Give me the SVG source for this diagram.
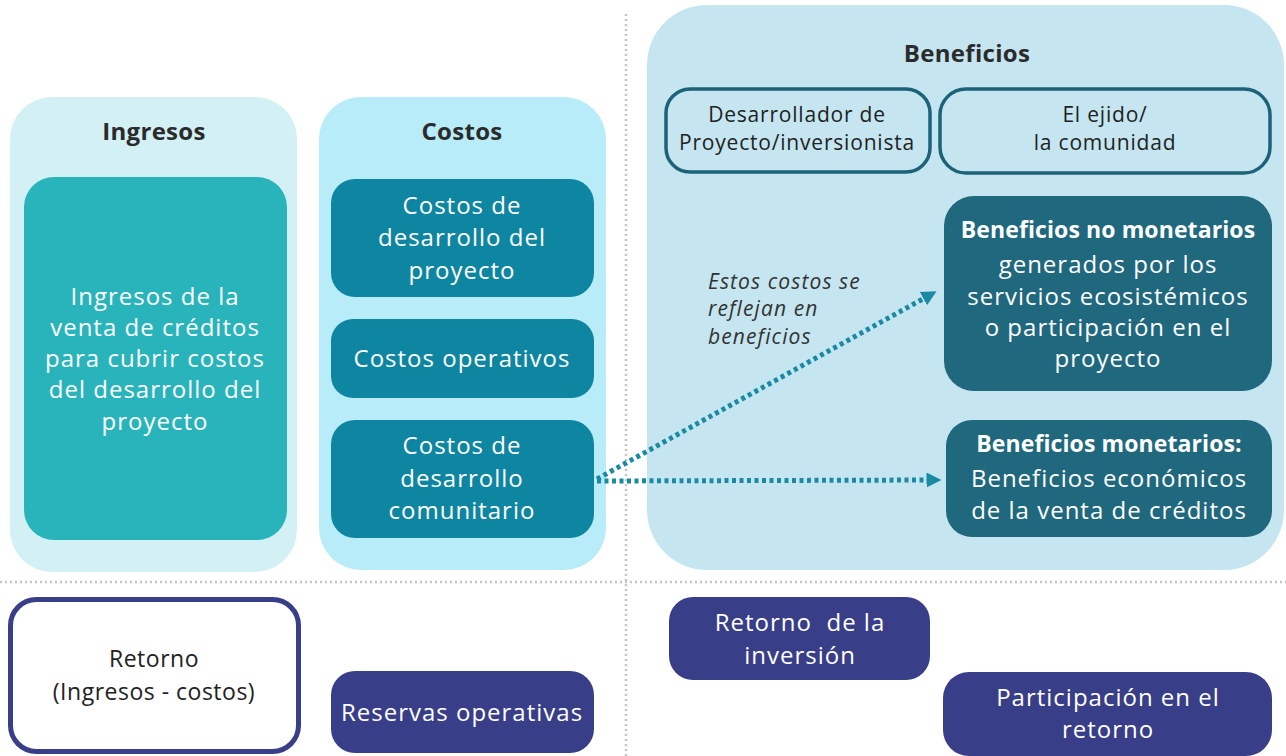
<svg xmlns="http://www.w3.org/2000/svg" width="1286" height="756" viewBox="0 0 1286 756">
<defs>
<marker id="ah" viewBox="0 0 10 10" refX="5" refY="5" markerWidth="3" markerHeight="3" orient="auto" markerUnits="strokeWidth">
<path d="M0,0 L10,5 L0,10 z" fill="#1a8aa4"/>
</marker>
<style>
text{font-family:"Open Sans","Noto Sans",sans-serif;text-anchor:middle}
.h{font-size:24px;font-weight:bold;fill:#2b2b2b;letter-spacing:0.3px}
.w{font-size:24px;fill:#ffffff;letter-spacing:1px}
.wb{font-size:23px;fill:#ffffff;font-weight:bold;letter-spacing:0.1px}
.d{font-size:21px;fill:#222;letter-spacing:0.8px}
.r{font-size:23px;fill:#222;letter-spacing:0.5px}
.it{font-size:21px;fill:#333;font-style:italic;text-anchor:start;letter-spacing:1.1px}
.cost{fill:#0e86a1}
.ben{fill:#1f687e}
.navy{fill:#383e87}
.out{fill:none;stroke:#1d6278;stroke-width:3.5}
.sep{stroke:#c4c4c4;stroke-width:2.5;stroke-dasharray:2 3;fill:none}
.conn{stroke:#1a8aa4;stroke-width:5;stroke-dasharray:4 3.5;fill:none}
</style>
</defs>
<rect width="1286" height="756" fill="#ffffff"/>
<g id="separators">
<line class="sep" x1="626" y1="14" x2="626" y2="756"/>
<line class="sep" x1="0" y1="582" x2="1286" y2="582"/>
</g>
<g id="ingresos">
<rect x="10" y="97" width="287" height="475" rx="42" fill="#d3f1f5"/>
<text class="h" x="154" y="140">Ingresos</text>
<rect x="24" y="177" width="263" height="363" rx="30" fill="#29b4bb"/>
<text class="w" x="155" y="305">Ingresos de la</text>
<text class="w" x="155" y="336">venta de créditos</text>
<text class="w" x="155" y="367">para cubrir costos</text>
<text class="w" x="155" y="398">del desarrollo del</text>
<text class="w" x="155" y="430">proyecto</text>
</g>
<g id="costos">
<rect x="319" y="97" width="287" height="473" rx="42" fill="#b8ecf8"/>
<text class="h" x="462" y="140">Costos</text>
<rect class="cost" x="331" y="179" width="263" height="118" rx="24"/>
<text class="w" x="462" y="214">Costos de</text>
<text class="w" x="462" y="246">desarrollo del</text>
<text class="w" x="462" y="279">proyecto</text>
<rect class="cost" x="331" y="319" width="263" height="79" rx="22"/>
<text class="w" x="462" y="367">Costos operativos</text>
<rect class="cost" x="331" y="420" width="263" height="118" rx="24"/>
<text class="w" x="462" y="454">Costos de</text>
<text class="w" x="462" y="487">desarrollo</text>
<text class="w" x="462" y="519">comunitario</text>
</g>
<g id="beneficios">
<rect x="647" y="5" width="637" height="565" rx="60" fill="#c5e6f0"/>
<text class="h" x="967" y="62">Beneficios</text>
<rect class="out" x="666" y="89" width="264" height="83" rx="24"/>
<text class="d" x="797" y="122">Desarrollador de</text>
<text class="d" x="797" y="150">Proyecto/inversionista</text>
<rect class="out" x="940" y="89" width="330" height="84" rx="26"/>
<text class="d" x="1105" y="122">El ejido/</text>
<text class="d" x="1105" y="150">la comunidad</text>
<text class="it" x="708" y="289">Estos costos se</text>
<text class="it" x="708" y="316">reflejan en</text>
<text class="it" x="708" y="344">beneficios</text>
</g>
<g id="no-monetarios">
<rect class="ben" x="944" y="196" width="328" height="195" rx="30"/>
<text class="wb" x="1108" y="238">Beneficios no monetarios</text>
<text class="w" x="1108" y="273">generados por los</text>
<text class="w" x="1108" y="305">servicios ecosistémicos</text>
<text class="w" x="1108" y="336">o participación en el</text>
<text class="w" x="1108" y="367">proyecto</text>
</g>
<g id="monetarios">
<rect class="ben" x="946" y="420" width="326" height="117" rx="26"/>
<text class="wb" x="1109" y="452">Beneficios monetarios:</text>
<text class="w" x="1109" y="487">Beneficios económicos</text>
<text class="w" x="1109" y="519">de la venta de créditos</text>
</g>
<g id="connectors">
<path class="conn" d="M597,479 L930,295" marker-end="url(#ah)"/>
<path class="conn" d="M597,481 L934,480" marker-end="url(#ah)"/>
</g>
<g id="retorno">
<rect x="10.5" y="599.5" width="288" height="152" rx="26" fill="#ffffff" stroke="#383e87" stroke-width="5"/>
<text class="r" x="154" y="667">Retorno</text>
<text class="r" x="154" y="700">(Ingresos - costos)</text>
</g>
<g id="reservas">
<rect class="navy" x="331" y="671" width="263" height="82" rx="24"/>
<text class="w" x="462" y="721">Reservas operativas</text>
</g>
<g id="retorno-inversion">
<rect class="navy" x="669" y="597" width="261" height="83" rx="24"/>
<text class="w" x="800" y="631" xml:space="preserve">Retorno  de la</text>
<text class="w" x="800" y="664">inversión</text>
</g>
<g id="participacion">
<rect class="navy" x="943" y="672" width="329" height="84" rx="26"/>
<text class="w" x="1108" y="706">Participación en el</text>
<text class="w" x="1108" y="738">retorno</text>
</g>
</svg>
